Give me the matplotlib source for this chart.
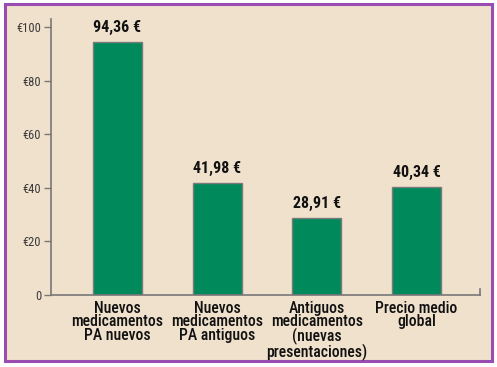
import matplotlib
matplotlib.use("Agg")
import matplotlib.pyplot as plt
from matplotlib.patches import Rectangle
from matplotlib import font_manager

categories = ["Nuevos\nmedicamentos\nPA nuevos", "Nuevos\nmedicamentos\nPA antiguos",
              "Antiguos\nmedicamentos\n(nuevas\npresentaciones)", "Precio medio\nglobal"]
values = [94.36, 41.98, 28.91, 40.34]
value_labels = ["94,36 €", "41,98 €", "28,91 €", "40,34 €"]
yticks = [0, 20, 40, 60, 80, 100]
ytick_labels = ["0", "€20", "€40", "€60", "€80", "€100"]

names = {f.name for f in font_manager.fontManager.ttflist}
fam = next((f for f in ["Roboto Condensed", "Archivo Narrow", "Barlow Semi Condensed",
                        "Liberation Sans Narrow"] if f in names), "Roboto")
plt.rcParams['font.family'] = [fam, 'DejaVu Sans']

bg = "#F0E1CC"
fig = plt.figure(figsize=(4.97, 3.67), dpi=100)
fig.patch.set_facecolor("white")
fig.patches.append(Rectangle((5/497, 1 - 361/367), 487/497, 357/367, transform=fig.transFigure,
                             facecolor=bg, edgecolor="#9A4DB0", linewidth=2.2, zorder=-5))

ax = fig.add_axes([51/497, 1 - 295/367, 429/497, 276/367])
ax.set_zorder(5)
ax.set_facecolor("none")
x = range(len(values))
ax.bar(x, values, width=0.49, color="#00895B", edgecolor="#7A7A7A", linewidth=1.0, zorder=2)
for xi, v, lab in zip(x, values, value_labels):
    ax.text(xi, v + 2.5, lab, ha="center", va="bottom", fontsize=11.5, fontweight="bold",
            color="#111111")
ax.set_xlim(-0.667, 3.637)
ax.set_ylim(0, 103)
ax.set_yticks(yticks)
ax.set_yticklabels(ytick_labels, fontsize=9, color="#3a3a3a")
ax.set_xticks(list(x))
ax.set_xticklabels(categories, fontsize=11.3, color="#111111", linespacing=0.9,
                   fontweight="medium")
ax.tick_params(axis="x", length=0, pad=4)
ax.tick_params(axis="y", length=5, color="#777777", width=1, pad=2)
for s in ["top", "right"]:
    ax.spines[s].set_visible(False)
for s in ["left", "bottom"]:
    ax.spines[s].set_color("#777777")
    ax.spines[s].set_linewidth(1.2)
ax.plot([3.637, 3.637], [0, 2.2], color="#777777", lw=1.2, clip_on=False)

fig.savefig("out.png", dpi=100, facecolor=fig.get_facecolor())
